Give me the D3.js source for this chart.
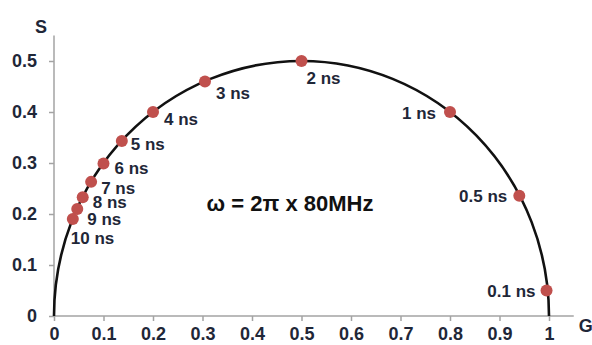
<!DOCTYPE html>
<html>
<head>
<meta charset="utf-8">
<style>
  body { margin: 0; background: #fff; }
  .tick text, .lbl { font-family: "Liberation Sans", Arial, sans-serif; font-weight: bold; fill: #1f2738; }
</style>
</head>
<body>
<svg class="phasor"></svg>
<script src="https://d3js.org/d3.v7.min.js"></script>
<script>
// lifetime points
const lifetimes = ["0.1 ns", "0.5 ns", "1 ns", "2 ns", "3 ns", "4 ns", "5 ns", "6 ns", "7 ns", "8 ns", "9 ns", "10 ns"];
const gValues = [0.995, 0.94, 0.80, 0.50, 0.305, 0.20, 0.137, 0.10, 0.075, 0.058, 0.047, 0.038];
const sValues = [0.05, 0.236, 0.40, 0.50, 0.46, 0.40, 0.343, 0.299, 0.263, 0.233, 0.21, 0.19];
const xTicks = [0, 0.1, 0.2, 0.3, 0.4, 0.5, 0.6, 0.7, 0.8, 0.9, 1];
const yTicks = [0, 0.1, 0.2, 0.3, 0.4, 0.5];

// label placement: [dx, dy, anchor]
const labelPlace = [
  [-11, 6, "end"], [-12, 6, "end"], [-14, 7, "end"], [5, 23, "start"],
  [11, 18, "start"], [11, 13, "start"], [9, 9, "start"], [11, 10, "start"],
  [10, 12, "start"], [10, 11, "start"], [10, 16, "start"], [-2, 25, "start"]
];

const width = 592, height = 345;
const svg = d3.select(".phasor").attr("width", width).attr("height", height);

const x = d3.scaleLinear().domain([0, 1]).range([54, 549]);
const y = d3.scaleLinear().domain([0, 0.5]).range([316, 61]);

const axisColor = "#a3a3a3";

// X axis
const xAxis = svg.append("g")
  .attr("transform", "translate(0," + y(0) + ")")
  .call(d3.axisBottom(x).tickValues(xTicks).tickSize(5).tickSizeOuter(0).tickFormat(d3.format("~g")));
xAxis.select(".domain").remove();
xAxis.selectAll(".tick line").attr("stroke", axisColor).attr("stroke-width", 1.5);
xAxis.selectAll(".tick text").attr("font-size", 18).attr("y", 11);
xAxis.append("line")
  .attr("x1", x(0)).attr("x2", x(1.05))
  .attr("stroke", axisColor).attr("stroke-width", 1.5);

// Y axis
const yAxis = svg.append("g")
  .attr("transform", "translate(" + x(0) + ",0)")
  .call(d3.axisLeft(y).tickValues(yTicks).tickSize(5).tickSizeOuter(0).tickFormat(d3.format("~g")));
yAxis.select(".domain").remove();
yAxis.selectAll(".tick line").attr("stroke", axisColor).attr("stroke-width", 1.5);
yAxis.selectAll(".tick text").attr("font-size", 18).attr("x", -17);
yAxis.append("line")
  .attr("y1", y(0)).attr("y2", y(0.55))
  .attr("stroke", axisColor).attr("stroke-width", 1.5);

// axis names
svg.append("text").attr("class", "lbl")
  .attr("x", x(0) - 13).attr("y", y(0.55) - 3)
  .attr("text-anchor", "middle").attr("font-size", 18).text("S");
svg.append("text").attr("class", "lbl")
  .attr("x", x(1.05) + 12).attr("y", y(0) + 16)
  .attr("text-anchor", "middle").attr("font-size", 18).text("G");

// universal semicircle
const rx = x(0.5) - x(0), ry = y(0) - y(0.5);
svg.append("path")
  .attr("d", "M" + x(0) + "," + y(0) + " A" + rx + "," + ry + " 0 0 1 " + x(1) + "," + y(0))
  .attr("fill", "none")
  .attr("stroke", "#111")
  .attr("stroke-width", 2.6);

// points
const points = d3.zip(lifetimes, gValues, sValues, labelPlace);
svg.selectAll("circle.pt")
  .data(points)
  .join("circle")
  .attr("class", "pt")
  .attr("cx", d => x(d[1]))
  .attr("cy", d => y(d[2]))
  .attr("r", 6)
  .attr("fill", "#c0504d");

svg.selectAll("text.ns")
  .data(points)
  .join("text")
  .attr("class", "ns lbl")
  .attr("x", d => x(d[1]) + d[3][0])
  .attr("y", d => y(d[2]) + d[3][1])
  .attr("text-anchor", d => d[3][2])
  .attr("font-size", 17)
  .text(d => d[0]);

// frequency note
svg.append("text")
  .attr("x", 290).attr("y", 211)
  .attr("text-anchor", "middle")
  .attr("font-family", "'Liberation Sans', Arial, sans-serif")
  .attr("font-weight", "bold")
  .attr("font-size", 22)
  .attr("fill", "#111")
  .text("ω = 2π x 80MHz");
</script>
</body>
</html>
